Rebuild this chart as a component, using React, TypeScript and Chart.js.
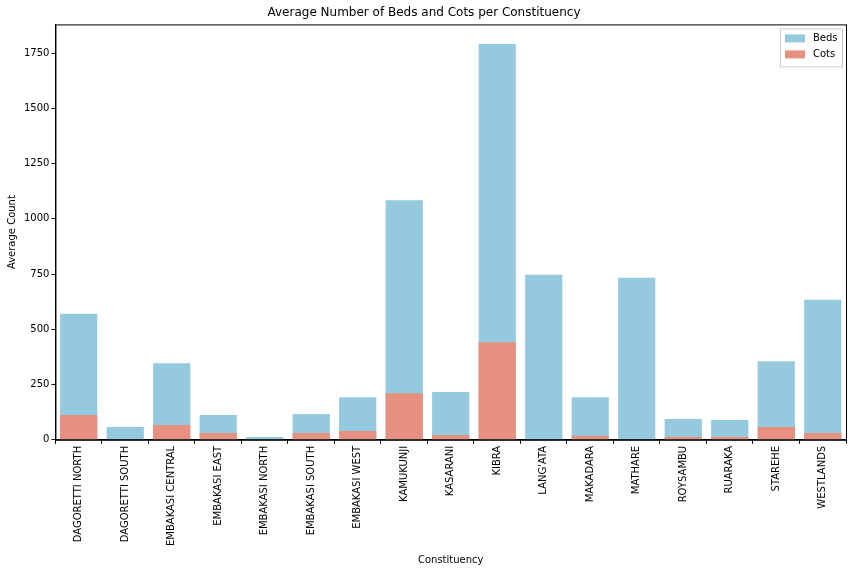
import { useEffect, useRef } from 'react';
import { Chart, registerables } from 'chart.js';

Chart.register(...registerables);

const constituencies = [
  'DAGORETTI NORTH', 'DAGORETTI SOUTH', 'EMBAKASI CENTRAL', 'EMBAKASI EAST', 'EMBAKASI NORTH',
  'EMBAKASI SOUTH', 'EMBAKASI WEST', 'KAMUKUNJI', 'KASARANI', 'KIBRA', "LANG'ATA", 'MAKADARA',
  'MATHARE', 'ROYSAMBU', 'RUARAKA', 'STAREHE', 'WESTLANDS',
];
const beds = [571, 58, 346, 112, 13, 117, 193, 1084, 216, 1791, 747, 193, 733, 94, 90, 355, 634];
const cots = [112, 0, 67, 31, 0, 31, 40, 211, 22, 441, 0, 18, 0, 13, 13, 58, 31];
const yTicks = [0, 250, 500, 750, 1000, 1250, 1500, 1750];

const BEDS_COLOR = '#95c9dd';
const COTS_COLOR = '#e8907f';

const framePlugin = {
  id: 'frame',
  afterDraw(chart: Chart) {
    const { ctx, chartArea: a } = chart;
    ctx.save();
    ctx.strokeStyle = '#000';
    ctx.lineWidth = 1;
    ctx.strokeRect(a.left + 0.5, a.top + 0.5, a.right - a.left, a.bottom - a.top);
    // legend inside top-right
    const items = [['Beds', BEDS_COLOR], ['Cots', COTS_COLOR]];
    const w = 62, h = 38;
    const x = a.right - w - 4, y = a.top + 4;
    ctx.fillStyle = 'rgba(255,255,255,0.8)';
    ctx.strokeStyle = '#ccc';
    ctx.fillRect(x, y, w, h);
    ctx.strokeRect(x + 0.5, y + 0.5, w, h);
    ctx.font = '10px "DejaVu Sans"';
    ctx.textBaseline = 'middle';
    items.forEach(([label, color], i) => {
      const yy = y + 10 + i * 16;
      ctx.fillStyle = color;
      ctx.fillRect(x + 5, yy - 4, 20, 8);
      ctx.fillStyle = '#000';
      ctx.fillText(label, x + 33, yy);
    });
    ctx.restore();
  },
};

export default function App() {
  const ref = useRef<HTMLCanvasElement>(null);
  const chartRef = useRef<Chart | null>(null);

  useEffect(() => {
    document.body.style.margin = '0';
    if (!ref.current) return;
    chartRef.current?.destroy();
    const tickGrid = { display: true, drawOnChartArea: false, drawTicks: true, tickLength: 4, color: '#000' };
    chartRef.current = new Chart(ref.current, {
      type: 'bar',
      data: {
        labels: constituencies,
        datasets: [
          { label: 'Beds', data: beds, backgroundColor: BEDS_COLOR, grouped: false, order: 1, barPercentage: 0.8, categoryPercentage: 1 },
          { label: 'Cots', data: cots, backgroundColor: COTS_COLOR, grouped: false, order: 0, barPercentage: 0.8, categoryPercentage: 1 },
        ],
      },
      options: {
        responsive: false,
        animation: false,
        layout: { padding: { top: 6, right: 10, left: 2, bottom: 2 } },
        plugins: {
          legend: { display: false },
          tooltip: { enabled: false },
          title: {
            display: true,
            text: 'Average Number of Beds and Cots per Constituency',
            color: '#000',
            font: { family: 'DejaVu Sans', size: 12, weight: 'normal' },
            padding: { top: 0, bottom: 4 },
          },
        },
        scales: {
          x: {
            grid: tickGrid,
            border: { color: '#000' },
            ticks: { color: '#000', padding: 2, minRotation: 90, maxRotation: 90, font: { family: 'DejaVu Sans', size: 10 } },
            title: { display: true, text: 'Constituency', color: '#000', padding: { top: 6, bottom: 0 }, font: { family: 'DejaVu Sans', size: 10 } },
          },
          y: {
            min: 0,
            max: 1880,
            grid: tickGrid,
            border: { color: '#000' },
            afterBuildTicks: (s: any) => { s.ticks = yTicks.map((v) => ({ value: v })); },
            ticks: { color: '#000', padding: 2, callback: (v: any) => String(v), font: { family: 'DejaVu Sans', size: 10 } },
            title: { display: true, text: 'Average Count', color: '#000', font: { family: 'DejaVu Sans', size: 10 } },
          },
        },
      },
      plugins: [framePlugin],
    });
    return () => { chartRef.current?.destroy(); };
  }, []);

  return <canvas ref={ref} width={856} height={568} />;
}
